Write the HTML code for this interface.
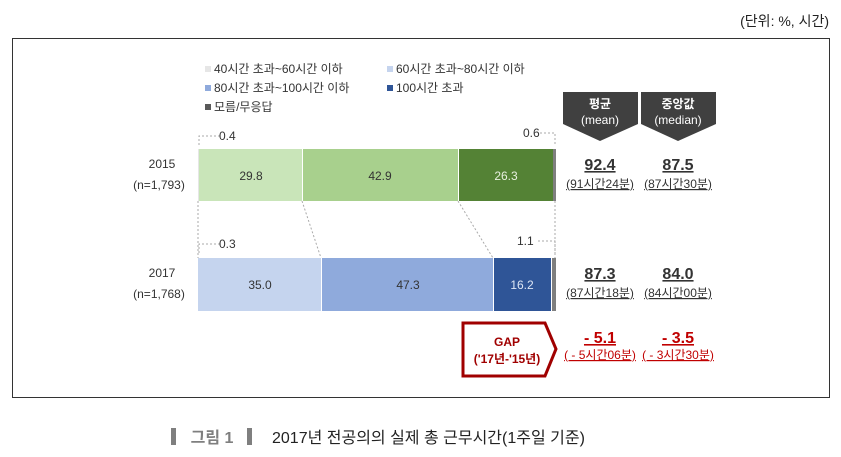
<!DOCTYPE html>
<html><head><meta charset="utf-8"><style>
body{margin:0;width:841px;height:457px;background:#fff;font-family:"Liberation Sans","Noto Sans CJK KR",sans-serif;position:relative;overflow:hidden}
.a{position:absolute;white-space:nowrap}
</style></head><body>
<div class="a" style="right:12px;top:11px;font-size:14px;color:#222">(단위: %, 시간)</div>
<div class="a" style="left:12px;top:38px;width:816px;height:358px;border:1px solid #333"></div>
<svg class="a" style="left:0;top:0" width="841" height="457" font-family="Liberation Sans, Noto Sans CJK KR, sans-serif">
<g font-size="12" fill="#333">
<rect x="205" y="66" width="6" height="6" fill="#e6e6e6"/><text x="214" y="73">40시간 초과~60시간 이하</text>
<rect x="387" y="66" width="6" height="6" fill="#c5d4ee"/><text x="396" y="73">60시간 초과~80시간 이하</text>
<rect x="205" y="85" width="6" height="6" fill="#8faadc"/><text x="214" y="92">80시간 초과~100시간 이하</text>
<rect x="387" y="85" width="6" height="6" fill="#2f5597"/><text x="396" y="92">100시간 초과</text>
<rect x="205" y="104" width="6" height="6" fill="#595959"/><text x="214" y="111">모름/무응답</text>
</g>
<rect x="198" y="149" width="1" height="52" fill="#e6e6e6"/>
<rect x="199" y="149" width="103" height="52" fill="#c9e5b9"/>
<rect x="303" y="149" width="155" height="52" fill="#a8d08d"/>
<rect x="459" y="149" width="94" height="52" fill="#548235"/>
<rect x="553" y="149" width="3" height="52" fill="#7f7f7f"/>
<g font-size="12" text-anchor="middle"><text x="251" y="180" fill="#333">29.8</text><text x="380" y="180" fill="#333">42.9</text><text x="506" y="180" fill="#e8f0e0">26.3</text></g>
<rect x="198" y="258" width="123" height="53" fill="#c5d4ee"/>
<rect x="322" y="258" width="171" height="53" fill="#8faadc"/>
<rect x="494" y="258" width="57" height="53" fill="#2f5597"/>
<rect x="552" y="258" width="4" height="53" fill="#7f7f7f"/>
<g font-size="12" text-anchor="middle"><text x="260" y="289" fill="#333">35.0</text><text x="408" y="289" fill="#333">47.3</text><text x="522" y="289" fill="#dde6f5">16.2</text></g>
<g font-size="12" fill="#333" text-anchor="middle"><text x="162" y="168">2015</text><text x="159" y="189">(n=1,793)</text><text x="162" y="277">2017</text><text x="159" y="298">(n=1,768)</text></g>
<g stroke="#aaa" stroke-dasharray="2,2" fill="none">
<line x1="198" y1="201" x2="198" y2="258"/><line x1="302" y1="201" x2="321" y2="258"/><line x1="458" y1="201" x2="493" y2="258"/><line x1="555" y1="201" x2="555" y2="258"/>
<path d="M220 136 H199 V146"/><path d="M220 244 H199 V254"/><path d="M540 133 H555 V146"/><path d="M538 241 H555 V254"/>
</g>
<g font-size="12" fill="#333"><text x="219" y="140">0.4</text><text x="219" y="248">0.3</text><text x="523" y="137" >0.6</text><text x="517" y="245">1.1</text></g>
<polygon points="563,92 638,92 638,124 600,141 563,124" fill="#404040"/>
<polygon points="641,92 716,92 716,124 678,141 641,124" fill="#404040"/>
<g fill="#fff" font-size="12" text-anchor="middle"><text x="600" y="108" font-weight="bold">평균</text><text x="600" y="124">(mean)</text><text x="678" y="108" font-weight="bold">중앙값</text><text x="678" y="124">(median)</text></g>
<g text-anchor="middle" fill="#333" text-decoration="underline">
<text x="600" y="170" font-size="16" font-weight="bold">92.4</text><text x="600" y="188" font-size="12">(91시간24분)</text>
<text x="678" y="170" font-size="16" font-weight="bold">87.5</text><text x="678" y="188" font-size="12">(87시간30분)</text>
<text x="600" y="279" font-size="16" font-weight="bold">87.3</text><text x="600" y="297" font-size="12">(87시간18분)</text>
<text x="678" y="279" font-size="16" font-weight="bold">84.0</text><text x="678" y="297" font-size="12">(84시간00분)</text>
</g>
<g text-anchor="middle" fill="#c00000" text-decoration="underline">
<text x="600" y="343" font-size="16" font-weight="bold">- 5.1</text><text x="600" y="359" font-size="12">( - 5시간06분)</text>
<text x="678" y="343" font-size="16" font-weight="bold">- 3.5</text><text x="678" y="359" font-size="12">( - 3시간30분)</text>
</g>
<polygon points="463,323 545,323 556,349 545,376 463,376" fill="#fff" stroke="#a00000" stroke-width="3"/>
<g fill="#a00000" font-size="12" text-anchor="middle" font-weight="bold"><text x="507" y="346">GAP</text><text x="507" y="363">('17년-'15년)</text></g>
<rect x="171" y="428" width="5" height="17" fill="#7f7f7f"/>
<rect x="247" y="428" width="5" height="17" fill="#7f7f7f"/>
<text x="212" y="443" font-size="16" font-weight="bold" fill="#7f7f7f" text-anchor="middle">그림 1</text>
<text x="272" y="443" font-size="16" fill="#222">2017년 전공의의 실제 총 근무시간(1주일 기준)</text>
</svg>
</body></html>
